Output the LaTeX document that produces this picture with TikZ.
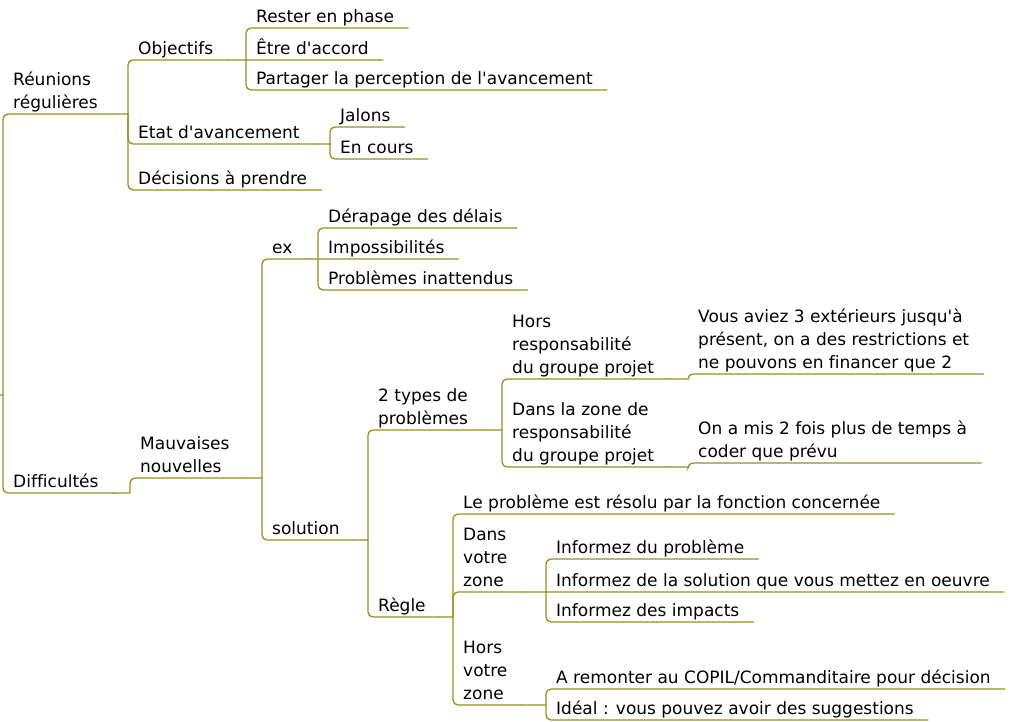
\documentclass[tikz,border=0pt]{standalone}
\usepackage{fontspec}
\setmainfont{DejaVu Sans}[Ligatures={TeXOff, CommonOff}]
\usepackage{tikz}
\tikzstyle{mindMap} = [x = 1pt, y = -1pt]
\definecolor{branchColor}{RGB}{145,145,30}
\tikzstyle{topicStyle} = [anchor = south west, inner xsep = 10pt, inner ysep = 0pt, align = left, font = \fontsize{17}{23}\selectfont]
\tikzstyle{branchLine} = [color = branchColor, line width = 1.3pt, line cap = round]
\newcommand{\lineDepth}{\rule[-5pt]{0pt}{5pt}}
\newcommand{\topic}[4]{\node [topicStyle] (#1) at (#2, #3) {#4\lineDepth};}
\newcommand{\leadBranch}[2]{\draw [branchLine] ([xshift = 4pt]#1) -- (#2.south west |- #1) [rounded corners = 5pt] -- (#2.south west) -- ([xshift = 4pt]#2.south east);}
\newcommand{\branch}[2]{\draw [branchLine, rounded corners = 5pt] (#2.south west |- #1) -- (#2.south west) -- ([xshift = 4pt]#2.south east);}
\newcommand{\straightBranch}[2]{\draw [branchLine] ([xshift = 4pt]#1.south east) -- (#1.south west) [rounded corners = 5pt] -- (#2.south west) -- ([xshift = 4pt]#2.south east);}

\begin{document}
\begin{tikzpicture}[mindMap]
        \useasboundingbox (0, 0) rectangle (1026, 722);
        \coordinate (root) at (-4, 395);
        \topic{reunions}{3}{114}{Réunions\\régulières}
        \topic{difficultes}{3}{493}{Difficultés}
        \topic{objectifs}{128}{60}{Objectifs}\topic{etat}{128}{144}{Etat d'avancement}\topic{decisions}{128}{190}{Décisions à prendre}
        \topic{phase}{246}{28}{Rester en phase}\topic{accord}{246}{60}{Être d'accord}\topic{partager}{246}{90}{Partager la perception de l'avancement}
        \topic{jalons}{330}{127}{Jalons}\topic{enCours}{330}{159}{En cours}
        \topic{mauvaises}{130}{478}{Mauvaises\\nouvelles}
        \topic{ex}{262}{259}{ex}\topic{solution}{262}{540}{solution}
        \topic{derapage}{318}{228}{Dérapage des délais}\topic{impossible}{318}{259}{Impossibilités}\topic{inattendus}{318}{290}{Problèmes inattendus}
        \topic{types}{368}{430}{2 types de\\problèmes}\topic{regle}{368}{617}{Règle}
        \topic{horsResp}{502}{379}{Hors\\responsabilité\\du groupe projet}
        \topic{dansResp}{502}{467}{Dans la zone de\\responsabilité\\du groupe projet}
        \topic{exterieurs}{688}{374}{Vous aviez 3 extérieurs jusqu'à\\présent, on a des restrictions et\\ne pouvons en financer que 2}
        \topic{temps}{688}{463}{On a mis 2 fois plus de temps à\\coder que prévu}
        \topic{resolu}{453}{514}{Le problème est résolu par la fonction concernée}
        \topic{dansZone}{453}{592}{Dans\\votre\\zone}\topic{horsZone}{453}{705}{Hors\\votre\\zone}
        \topic{informeProbleme}{546}{559}{Informez du problème}
        \topic{informeSolution}{546}{592}{Informez de la solution que vous mettez en oeuvre}
        \topic{informeImpacts}{546}{622}{Informez des impacts}
        \topic{remonter}{546}{689}{A remonter au COPIL/Commanditaire pour décision}
        \topic{ideal}{546}{720}{Idéal : vous pouvez avoir des suggestions}
        % branches
        \leadBranch{root}{difficultes}\branch{root}{reunions}
        \leadBranch{reunions.south east}{etat}
        \foreach \child in {objectifs, decisions} {\branch{reunions.south east}{\child}}
        \leadBranch{objectifs.south east}{partager}\straightBranch{accord}{phase}
        \leadBranch{etat.south east}{enCours}\branch{etat.south east}{jalons}
        \leadBranch{difficultes.south east}{mauvaises}
        \leadBranch{mauvaises.south east}{solution}\branch{mauvaises.south east}{ex}
        \leadBranch{ex.south east}{inattendus}\straightBranch{impossible}{derapage}
        \leadBranch{solution.south east}{regle}\branch{solution.south east}{types}
        \leadBranch{types.south east}{dansResp}\branch{types.south east}{horsResp}
        \leadBranch{horsResp.south east}{exterieurs}
        \leadBranch{dansResp.south east}{temps}
        \leadBranch{regle.south east}{horsZone}
        \foreach \child in {resolu, dansZone} {\branch{regle.south east}{\child}}
        \leadBranch{dansZone.south east}{informeImpacts}\straightBranch{informeSolution}{informeProbleme}
        \leadBranch{horsZone.south east}{ideal}\branch{horsZone.south east}{remonter}
\end{tikzpicture}
\end{document}
